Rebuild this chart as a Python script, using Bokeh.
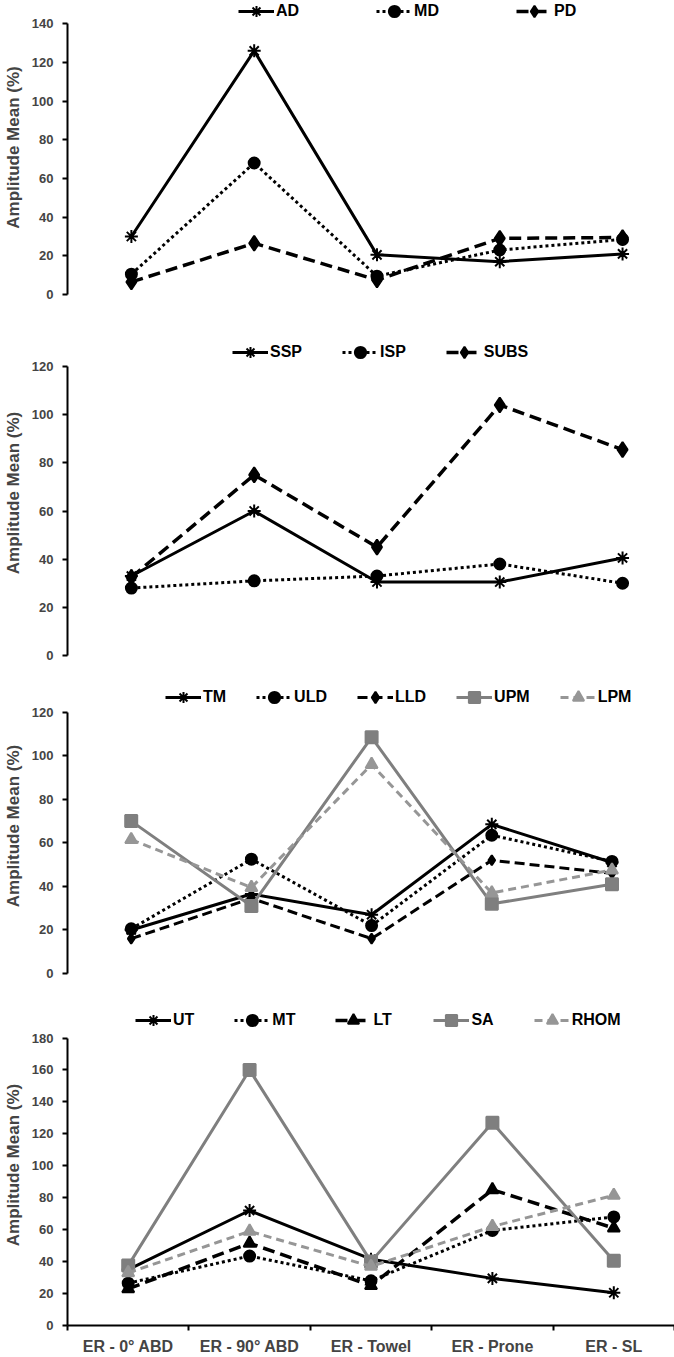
from bokeh.plotting import figure
from bokeh.layouts import column
from bokeh.models import Range1d, FixedTicker, SingleIntervalTicker, Legend, LegendItem
from bokeh.embed import file_html
from bokeh.resources import INLINE

# ---------------- data ----------------
categories = ["ER - 0° ABD", "ER - 90° ABD", "ER - Towel", "ER - Prone", "ER - SL"]

AD = [30, 126, 20.5, 17, 21]
MD = [10.5, 68, 9.5, 23, 28.5]
PD = [6.5, 26.5, 7.5, 29, 29.5]

SSP = [33, 60, 30.5, 30.5, 40.5]
ISP = [28, 31, 33, 38, 30]
SUBS = [32.5, 75, 45, 104, 85.5]

TM = [20, 36.5, 27, 68.5, 51]
ULD = [20.5, 52.5, 22, 63.5, 51.5]
LLD = [16, 34.5, 16, 52, 46]
UPM = [70, 31, 108.5, 32, 41]
LPM = [61.5, 39.5, 96, 37, 47.5]

UT = [35, 72, 41.5, 29.5, 20.5]
MT = [26.5, 43.5, 28, 59.5, 68]
LT = [23, 51.5, 25, 85, 61]
SA = [37.5, 160, 40, 127, 40.5]
RHOM = [33, 59, 37, 62, 81.5]

y_label = "Amplitude Mean (%)"

# ---------------- styles ----------------
BLACK = "#000000"
GRAY = "#7f7f7f"
LGRAY = "#969696"
STYLES = {
    "solid_ast": dict(color=BLACK, dash="solid", marker="asterisk", size=13, lw=3),
    "dot_circle": dict(color=BLACK, dash="3 3", marker="circle", size=11, lw=3),
    "dash_diamond": dict(color=BLACK, dash="12 6", marker="diamond", size=15, lw=3.5),
    "dash_smalldiamond": dict(color=BLACK, dash="10 5", marker="diamond", size=10, lw=3),
    "dash_triangle": dict(color=BLACK, dash="12 6", marker="triangle", size=12, lw=3.5),
    "gray_square": dict(color=GRAY, dash="solid", marker="square", size=12, lw=3),
    "lgray_triangle": dict(color=LGRAY, dash="8 5", marker="triangle", size=12, lw=3),
}

FONT = "Liberation Sans"
xs = [i + 0.5 for i in range(len(categories))]


def panel(series, height, b_top, b_bottom, y_end, y_max, x_range, leg_xy, leg_spacing, last=False):
    p = figure(width=674, height=height, output_backend="svg", toolbar_location=None,
               x_range=Range1d(*x_range), y_range=Range1d(0, y_end),
               x_axis_location="below" if last else None,
               min_border_left=66, min_border_right=0,
               min_border_top=b_top, min_border_bottom=b_bottom)
    p.outline_line_color = None
    p.xgrid.visible = False
    p.ygrid.visible = False
    p.background_fill_color = "white"
    p.border_fill_color = "white"

    items = []
    for name, vals, key in series:
        s = STYLES[key]
        r1 = p.line(xs, vals, line_color=s["color"], line_width=s["lw"], line_dash=s["dash"])
        r2 = p.scatter(xs, vals, marker=s["marker"], size=s["size"],
                       fill_color=s["color"], line_color=s["color"], line_width=2)
        items.append(LegendItem(label=name, renderers=[r1, r2]))

    leg = Legend(items=items, orientation="horizontal", location=leg_xy,
                 glyph_width=36, glyph_height=28, label_height=28, label_standoff=2,
                 spacing=leg_spacing, padding=0, margin=0,
                 border_line_color=None, background_fill_alpha=0,
                 label_text_font=FONT, label_text_font_size="16px",
                 label_text_font_style="bold", label_text_color="black")
    p.add_layout(leg, "center")

    ya = p.yaxis[0]
    ya.ticker = SingleIntervalTicker(interval=20)
    ya.bounds = (0, y_max)
    ya.axis_line_width = 2
    ya.axis_line_color = "black"
    ya.major_tick_line_width = 2
    ya.major_tick_in = 0
    ya.major_tick_out = 5
    ya.minor_tick_line_color = None
    ya.major_label_text_font = FONT
    ya.major_label_text_font_size = "13px"
    ya.major_label_text_font_style = "bold"
    ya.major_label_standoff = 9
    ya.axis_label = y_label
    ya.axis_label_text_font = FONT
    ya.axis_label_text_font_size = "17px"
    ya.axis_label_text_font_style = "bold"
    ya.axis_label_standoff = 6

    if last:
        xa = p.xaxis[0]
        xa.ticker = FixedTicker(ticks=xs, minor_ticks=list(range(len(categories) + 1)))
        xa.major_label_overrides = {x: c for x, c in zip(xs, categories)}
        xa.axis_line_width = 2
        xa.axis_line_color = "black"
        xa.major_tick_out = 0
        xa.major_tick_in = 0
        xa.minor_tick_out = 5
        xa.minor_tick_in = 0
        xa.minor_tick_line_width = 2
        xa.minor_tick_line_color = "black"
        xa.major_label_text_font = FONT
        xa.major_label_text_font_size = "16px"
        xa.major_label_text_font_style = "bold"
        xa.major_label_standoff = 7
    return p


p1 = panel([("AD", AD, "solid_ast"), ("MD", MD, "dot_circle"), ("PD", PD, "dash_diamond")],
           312, 0, 18, 152.05, 140, (-0.0203, 4.923), (171, 269), 77)
p2 = panel([("SSP", SSP, "solid_ast"), ("ISP", ISP, "dot_circle"), ("SUBS", SUBS, "dash_diamond")],
           356, 18, 13, 134.95, 120, (-0.0203, 4.923), (165, 289), 40)
p3 = panel([("TM", TM, "solid_ast"), ("ULD", ULD, "dot_circle"), ("LLD", LLD, "dash_smalldiamond"),
            ("UPM", UPM, "gray_square"), ("LPM", LPM, "lgray_triangle")],
           332, 10, 27, 135.5, 120, (-0.03, 5.02), (98, 262), 30)
p4 = panel([("UT", UT, "solid_ast"), ("MT", MT, "dot_circle"), ("LT", LT, "dash_triangle"),
            ("SA", SA, "gray_square"), ("RHOM", RHOM, "lgray_triangle")],
           357, 4, 31, 201.0, 180, (0, 5), (68, 291), 40, last=True)

layout = column(p1, p2, p3, p4, spacing=0)
open("out.html", "w").write(file_html(layout, INLINE))
